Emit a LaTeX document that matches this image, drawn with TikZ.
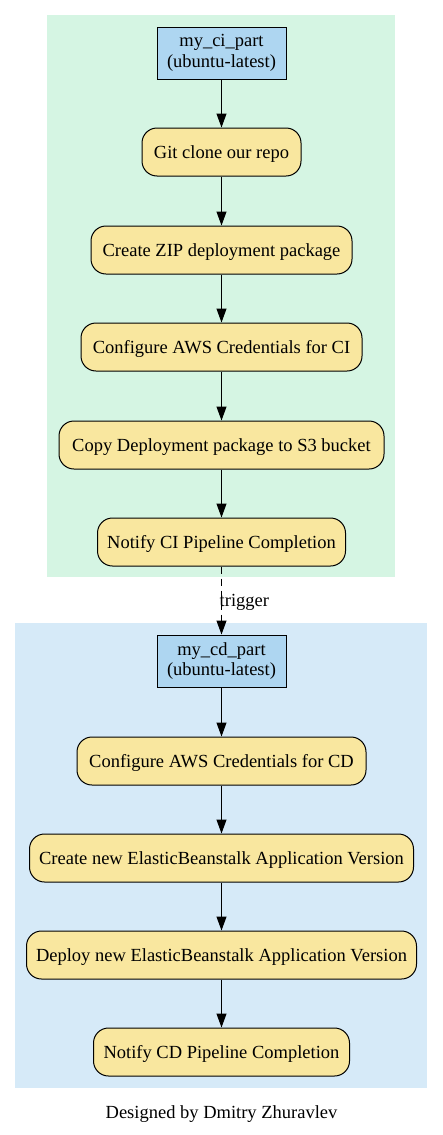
\documentclass[tikz,border=0pt]{standalone}
\usepackage{fontspec}
\setmainfont{Liberation Serif}
\usetikzlibrary{arrows.meta}
\definecolor{cigreen}{HTML}{D5F5E3}
\definecolor{cdblue}{HTML}{D6EAF8}
\definecolor{jobblue}{HTML}{AED6F1}
\definecolor{stepyellow}{HTML}{F9E79F}
\tikzset{
  txt/.style={font=\fontsize{18.5}{20.5}\selectfont},
  jobbox/.style={txt, draw=black, fill=jobblue, line width=1pt, minimum height=52pt, align=center, inner sep=0pt},
  stepbox/.style={txt, draw=black, fill=stepyellow, line width=1pt, rounded corners=15pt, minimum height=48pt, inner sep=0pt, text depth=0pt},
  flow/.style={line width=1pt, -{Triangle[length=14pt,width=10pt]}},
  trig/.style={dash pattern=on 7pt off 5pt}
}
\begin{document}
\begin{tikzpicture}[x=1pt,y=-1pt]
\useasboundingbox (0,0) rectangle (443,1135);
\fill[cigreen] (47,15) rectangle (395,577);
\fill[cdblue] (15,623) rectangle (427,1088);

\node[jobbox, minimum width=129pt] (ci) at (221.5,53) {my\_ci\_part\\(ubuntu-latest)};
\node[stepbox, minimum width=159pt] (git) at (221.5,152) {Git clone our repo};
\node[stepbox, minimum width=261pt] (zip) at (221.5,250) {Create ZIP deployment package};
\node[stepbox, minimum width=281pt] (cfgci) at (221.5,347) {Configure AWS Credentials for CI};
\node[stepbox, minimum width=325pt] (copy) at (221.5,445) {Copy Deployment package to S3 bucket};
\node[stepbox, minimum width=248pt] (notci) at (221.5,542) {Notify CI Pipeline Completion};

\node[jobbox, minimum width=129pt] (cd) at (221.5,661) {my\_cd\_part\\(ubuntu-latest)};
\node[stepbox, minimum width=289pt] (cfgcd) at (221.5,761) {Configure AWS Credentials for CD};
\node[stepbox, minimum width=384pt] (create) at (221.5,858) {Create new ElasticBeanstalk Application Version};
\node[stepbox, minimum width=390pt] (deploy) at (221.5,955) {Deploy new ElasticBeanstalk Application Version};
\node[stepbox, minimum width=256pt] (notcd) at (221.5,1052) {Notify CD Pipeline Completion};

\draw[flow] (ci) -- (git);
\draw[flow] (git) -- (zip);
\draw[flow] (zip) -- (cfgci);
\draw[flow] (cfgci) -- (copy);
\draw[flow] (copy) -- (notci);
\draw[flow, trig] (notci) -- (cd);
\node[txt, anchor=west, inner sep=0pt] (triglbl) at (219.5,602) {trigger};
\draw[flow] (cd) -- (cfgcd);
\draw[flow] (cfgcd) -- (create);
\draw[flow] (create) -- (deploy);
\draw[flow] (deploy) -- (notcd);

\node[txt] (caption) at (221.5,1114) {Designed by Dmitry Zhuravlev};
\end{tikzpicture}
\end{document}
